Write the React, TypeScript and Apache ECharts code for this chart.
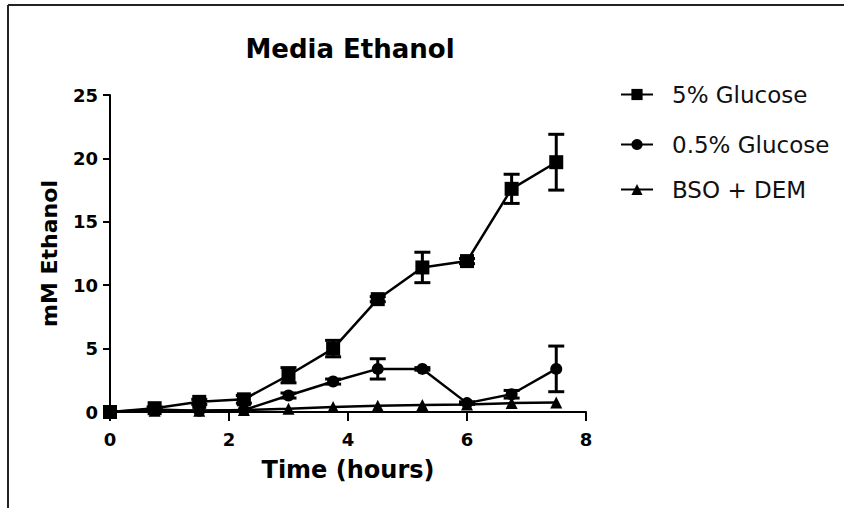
import React, { useEffect, useRef } from "react";
import * as echarts from "echarts";

// Sampling times (hours)
const times = [0, 0.75, 1.5, 2.25, 3, 3.75, 4.5, 5.25, 6, 6.75, 7.5];

// Media ethanol (mM), mean and SEM per time point
const glucose5 = [0, 0.3, 0.8, 1.0, 2.9, 5.0, 8.9, 11.4, 11.9, 17.6, 19.7];
const glucose5Err = [0, 0.1, 0.2, 0.3, 0.6, 0.65, 0.2, 1.2, 0.2, 1.15, 2.2];

const glucose05 = [0, 0.2, 0.1, 0.15, 1.3, 2.4, 3.4, 3.4, 0.7, 1.4, 3.4];
const glucose05Err = [0, 0, 0, 0, 0.2, 0.2, 0.8, 0.1, 0.1, 0.3, 1.8];

const bsoDem = [0, 0.1, 0.1, 0.15, 0.25, 0.4, 0.5, 0.55, 0.6, 0.7, 0.75];

const seriesNames = ["5% Glucose", "0.5% Glucose", "BSO + DEM"];
const yTicks = { min: 0, max: 25, interval: 5 };
const xTicks = { min: 0, max: 8, interval: 2 };

const FONT = "DejaVu Sans";
const INK = "#000";

const pairs = (ys: number[]) => times.map((t, i) => [t, ys[i]]);
const errRanges = (ys: number[], es: number[]) =>
  times
    .map((t, i) => [t, ys[i] - es[i], ys[i] + es[i], es[i]])
    .filter((d) => d[3] > 0)
    .map((d) => [d[0], d[1], d[2]]);

const renderErrorBar = (_params: any, api: any) => {
  const x = api.value(0);
  const lo = api.coord([x, api.value(1)]);
  const hi = api.coord([x, api.value(2)]);
  const w = 8;
  const style = { stroke: INK, lineWidth: 3 };
  return {
    type: "group",
    children: [
      { type: "line", shape: { x1: lo[0], y1: lo[1], x2: hi[0], y2: hi[1] }, style },
      { type: "line", shape: { x1: lo[0] - w, y1: lo[1], x2: lo[0] + w, y2: lo[1] }, style },
      { type: "line", shape: { x1: hi[0] - w, y1: hi[1], x2: hi[0] + w, y2: hi[1] }, style },
    ],
  };
};

const lineSeries = (name: string, ys: number[], symbol: string, size: number) => ({
  name,
  type: "line",
  data: pairs(ys),
  symbol,
  symbolSize: size,
  showAllSymbol: true,
  lineStyle: { color: INK, width: 2.5 },
  itemStyle: { color: INK },
  z: 3,
});

const errSeries = (ys: number[], es: number[]) => ({
  type: "custom",
  renderItem: renderErrorBar,
  data: errRanges(ys, es),
  encode: { x: 0, y: [1, 2] },
  z: 4,
  silent: true,
});

const legendAt = (name: string, top: number) => ({
  data: [name],
  left: 620,
  top,
  padding: 0,
  itemWidth: 32,
  itemHeight: 14,
  selectedMode: false,
  textStyle: {
    fontFamily: FONT,
    fontSize: 23,
    color: "#111",
    padding: [0, 0, 0, 14],
  },
});

export default function App() {
  const ref = useRef<HTMLDivElement>(null);

  useEffect(() => {
    if (!ref.current) return;
    const chart = echarts.init(ref.current, undefined, { renderer: "svg" });
    chart.setOption({
      animation: false,
      backgroundColor: "#fff",
      title: {
        text: "Media Ethanol",
        left: 345,
        top: 31,
        textAlign: "center",
        textStyle: { fontFamily: FONT, fontWeight: "bold", fontSize: 26, color: INK },
      },
      legend: [
        legendAt(seriesNames[0], 83),
        legendAt(seriesNames[1], 133),
        legendAt(seriesNames[2], 178),
      ],
      grid: { left: 110, right: 258, top: 95, bottom: 96 },
      xAxis: {
        type: "value",
        ...xTicks,
        name: "Time (hours)",
        nameLocation: "middle",
        nameGap: 46,
        nameTextStyle: { fontFamily: FONT, fontWeight: "bold", fontSize: 24, color: INK },
        axisLine: { lineStyle: { color: INK, width: 2 } },
        axisTick: { length: 9, lineStyle: { color: INK, width: 2 } },
        axisLabel: { margin: 18, fontFamily: FONT, fontWeight: "bold", fontSize: 18, color: INK },
        splitLine: { show: false },
      },
      yAxis: {
        type: "value",
        ...yTicks,
        name: "mM Ethanol",
        nameLocation: "middle",
        nameGap: 50,
        nameTextStyle: { fontFamily: FONT, fontWeight: "bold", fontSize: 22, color: INK },
        axisLine: { show: true, lineStyle: { color: INK, width: 2 } },
        axisTick: { show: true, length: 7, lineStyle: { color: INK, width: 2 } },
        axisLabel: { margin: 12, fontFamily: FONT, fontWeight: "bold", fontSize: 18, color: INK },
        splitLine: { show: false },
      },
      graphic: [
        { type: "line", shape: { x1: 8, y1: 5, x2: 844, y2: 5 }, style: { stroke: "#222", lineWidth: 2 } },
        { type: "line", shape: { x1: 8, y1: 5, x2: 8, y2: 508 }, style: { stroke: "#222", lineWidth: 2 } },
      ],
      series: [
        lineSeries(seriesNames[0], glucose5, "rect", 14),
        lineSeries(seriesNames[1], glucose05, "circle", 12),
        lineSeries(seriesNames[2], bsoDem, "triangle", 12),
        errSeries(glucose5, glucose5Err),
        errSeries(glucose05, glucose05Err),
      ],
    });
    return () => chart.dispose();
  }, []);

  return (
    <div
      ref={ref}
      style={{ position: "fixed", left: 0, top: 0, width: 844, height: 508 }}
    />
  );
}
